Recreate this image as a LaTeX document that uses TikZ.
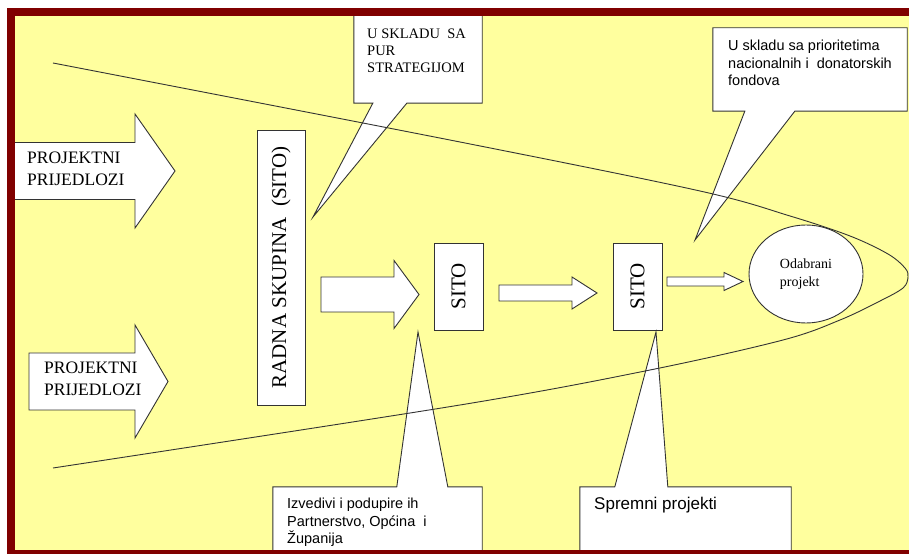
\documentclass[tikz,border=0pt]{standalone}
\usepackage{fontspec}
\setmainfont{Liberation Serif}
\setsansfont{Liberation Sans}
\usetikzlibrary{calc, positioning, shapes.geometric}
\definecolor{framered}{RGB}{128,0,0}
\definecolor{paleyellow}{RGB}{255,255,158}
\tikzset{
  sitobox/.style={
    rectangle, draw=black!80, fill=white, line width=0.9pt,
    rotate=90, inner sep=0pt, font=\fontsize{21}{24}\selectfont
  },
  bigarrow/.style={
    draw=black!80, fill=white, line width=0.9pt
  },
  callbox/.style={
    rectangle, inner sep=0pt
  },
  callout/.style={
    draw=black!80, fill=white, line width=0.9pt
  },
  calltext/.style={
    anchor=north west, inner sep=0pt, align=left,
    font=\sffamily\fontsize{14.5}{17.5}\selectfont
  },
  arrowtext/.style={
    anchor=north west, inner sep=0pt, align=left,
    font=\fontsize{17.5}{22}\selectfont
  }
}
% block arrow: start, shaft length, shaft half width, head half width, head length
\newcommand{\blockarrow}[5]{%
  \draw[bigarrow] (#1) ++(0,#3) -- ++(#2,0) -- ++(0,#4-#3) -- ++(#5,-#4)
    -- ++(-#5,-#4) -- ++(0,#4-#3) -- ++(-#2,0) -- cycle;}

\begin{document}
\begin{tikzpicture}[x=1pt, y=1pt]
  \useasboundingbox (0,0) rectangle (909,554);

  % Background
  \fill[paleyellow] (14,4) rectangle (909,538);

  % Block arrows
  \coordinate (pa1) at (10,383);
  \coordinate (pa2) at (29,172.5);
  \coordinate (ra) at (321,259.5);
  \coordinate (sa1) at (499,261);
  \coordinate (sa2) at (667,272.5);
  \blockarrow{pa1}{125}{28.5}{57}{40}
  \blockarrow{pa2}{106}{28.5}{56.5}{33}
  \blockarrow{ra}{73}{17.5}{34}{25}
  \blockarrow{sa1}{73}{8}{16}{25}
  \blockarrow{sa2}{57}{4.5}{9}{19}
  \node[arrowtext] (prijedlozi1) at (27,402) {PROJEKTNI\\PRIJEDLOZI};
  \node[arrowtext] (prijedlozi2) at (44,192) {PROJEKTNI\\PRIJEDLOZI};

  % Sieves
  \node[sitobox, minimum width=275pt, minimum height=48pt] (radna) at (281,286.5) {RADNA SKUPINA\ \ (SITO)};
  \node[sitobox, minimum width=87pt, minimum height=49pt] (sito1) at (458.5,267.5) {SITO};
  \node[sitobox, minimum width=87pt, minimum height=49pt] (sito2) at (637.5,267.5) {SITO};

  % Callouts
  \node[callbox, minimum width=128pt, minimum height=89pt] (purbox) at (418,495.5) {};
  \coordinate (purtip) at (313,337);
  \draw[callout] (purbox.north west) -- (purbox.north east) -- (purbox.south east)
    -- ($(purbox.south west)+(53,0)$) -- (purtip) -- ($(purbox.south west)+(19,0)$)
    -- (purbox.south west) -- cycle;

  \node[callbox, minimum width=194pt, minimum height=83pt] (fondbox) at (810,484.5) {};
  \coordinate (fondtip) at (695,314);
  \draw[callout] (fondbox.north west) -- (fondbox.north east) -- (fondbox.south east)
    -- ($(fondbox.south west)+(82,0)$) -- (fondtip) -- ($(fondbox.south west)+(32,0)$)
    -- (fondbox.south west) -- cycle;

  \node[callbox, minimum width=209pt, minimum height=65pt] (izvbox) at (377.5,34.5) {};
  \coordinate (izvtip) at (418,222);
  \draw[callout] (izvbox.south west) -- (izvbox.north west)
    -- ($(izvbox.north west)+(124,0)$) -- (izvtip) -- ($(izvbox.north west)+(175,0)$)
    -- (izvbox.north east) -- (izvbox.south east) -- cycle;

  \node[callbox, minimum width=211pt, minimum height=65pt] (sprbox) at (685.5,34.5) {};
  \coordinate (sprtip) at (656,222);
  \draw[callout] (sprbox.south west) -- (sprbox.north west)
    -- ($(sprbox.north west)+(35,0)$) -- (sprtip) -- ($(sprbox.north west)+(88,0)$)
    -- (sprbox.north east) -- (sprbox.south east) -- cycle;

  % Selected project
  \node[ellipse, draw=black!80, fill=white, line width=0.9pt, minimum width=114pt,
    minimum height=98pt, align=left, font=\fontsize{14}{18}\selectfont] (odabrani) at (806,280) {Odabrani\\projekt};

  % Funnel
  \draw[black!80, line width=0.9pt] plot[smooth, tension=0.55] coordinates {
    (53,491) (460,412) (700,363) (790,338) (850,318) (888,300) (905,286) (908,277)
    (903,266) (880,253) (840,234) (783,214) (650,184) (460,149) (53,86)};

  % Callout texts
  \node[calltext, font=\fontsize{14.5}{17}\selectfont] (purtext) at (367,525) {U SKLADU\ \ SA\\PUR\\STRATEGIJOM};
  \node[calltext] (fondtext) at (728,514) {U skladu sa prioritetima\\nacionalnih i\ \ donatorskih\\fondova};
  \node[calltext] (izvtext) at (287,56) {Izvedivi i podupire ih\\Partnerstvo, Općina\ \ i\\Županija};
  \node[calltext, font=\sffamily\fontsize{17}{20}\selectfont] (sprtext) at (594,57) {Spremni projekti};

  % Frame (open on the right)
  \fill[framered] (7,538) rectangle (909,546);
  \fill[framered] (7,0) rectangle (15,546);
  \fill[framered] (7,0) rectangle (909,4);
\end{tikzpicture}
\end{document}
